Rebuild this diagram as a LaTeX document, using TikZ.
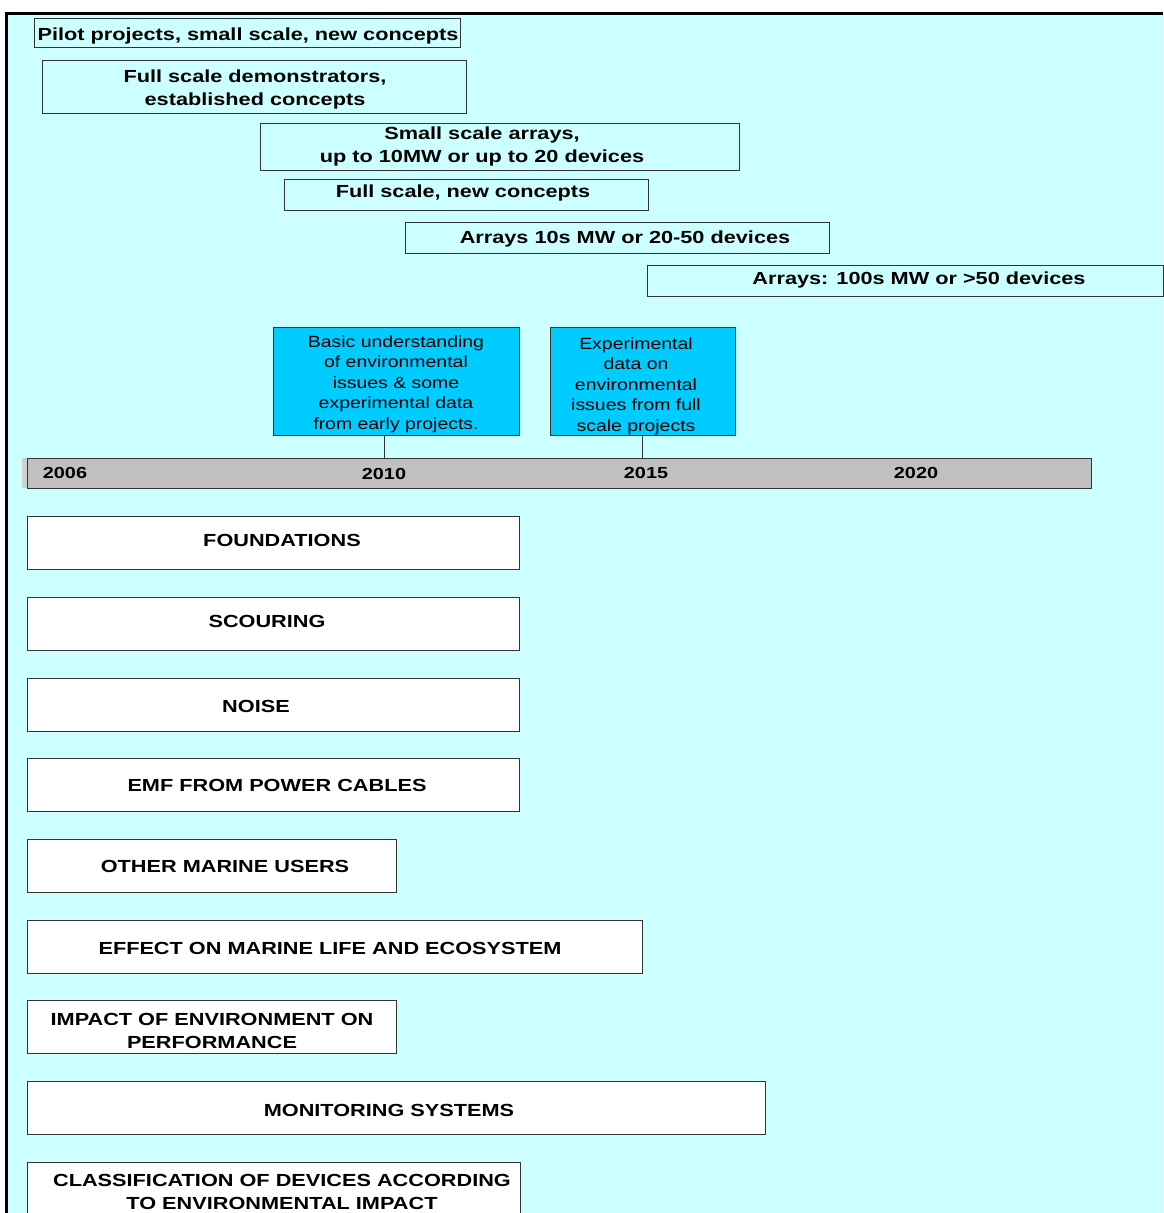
\documentclass[tikz,border=0pt]{standalone}
\usepackage{fontspec}
\setmainfont{Liberation Sans}
\newfontfamily\lab[FakeStretch=1.24]{Liberation Sans}
\newfontfamily\labreg[FakeStretch=1.2]{Liberation Sans}
\usetikzlibrary{fit}
\definecolor{bgc}{HTML}{CCFFFF}
\definecolor{bluebox}{HTML}{00CCFF}
\definecolor{barc}{HTML}{C0C0C0}
\definecolor{edgec}{HTML}{333333}
\begin{document}
\begin{tikzpicture}[x=1pt,y=-1pt,
  topbox/.style={draw=edgec, line width=0.9pt, fill=bgc, inner sep=0pt},
  envbox/.style={draw=edgec, line width=0.9pt, fill=bluebox, inner sep=0pt},
  catbox/.style={draw=edgec, line width=0.9pt, fill=white, inner sep=0pt},
  boldtxt/.style={font=\lab\bfseries\fontsize{17.5}{23}\selectfont, align=center, inner sep=0pt},
  regtxt/.style={font=\labreg\fontsize{16.2}{20.5}\selectfont, align=center, inner sep=0pt},
  yeartxt/.style={font=\lab\bfseries\fontsize{16}{19}\selectfont, inner sep=0pt},
  tick/.style={draw=edgec, line width=0.9pt}
]
\useasboundingbox (0,0) rectangle (1163,1213);
\fill[bgc] (6,13) rectangle (1163,1213);
\draw[line width=3pt] (4.5,13) -- (1163,13);
\draw[line width=3pt] (6,11.5) -- (6,1213);

% top phase boxes
\node[topbox, fit={(34,18) (460,47)}] (p1) {};
\node[boldtxt] (p1t) at (248,35.5) {Pilot projects, small scale, new concepts};
\node[topbox, fit={(42,60) (466,113)}] (p2) {};
\node[boldtxt] (p2t) at (255,89.5) {Full scale demonstrators,\\established concepts};
\node[topbox, fit={(260,123) (739,170)}] (p3) {};
\node[boldtxt] (p3t) at (482,146.5) {Small scale arrays,\\up to 10MW or up to 20 devices};
\node[topbox, fit={(284,179) (648,210)}] (p4) {};
\node[boldtxt] (p4t) at (463,193) {Full scale, new concepts};
\node[topbox, fit={(405,222) (829,253)}] (p5) {};
\node[boldtxt] (p5t) at (625,239) {Arrays 10s MW or 20-50 devices};
\node[topbox, fit={(647,265) (1163,296)}] (p6) {};
\node[boldtxt] (p6t) at (919,280) {Arrays: 100s MW or {>}50 devices};

% timeline bar
\fill[barc!75!white] (22,458) rectangle (27,488);
\node[draw=edgec, line width=0.9pt, fill=barc, inner sep=0pt, fit={(27,458) (1091,488)}] (bar) {};
\node[yeartxt] (y2006) at (65,473) {2006};
\node[yeartxt] (y2010) at (384,474) {2010};
\node[yeartxt] (y2015) at (646,473) {2015};
\node[yeartxt] (y2020) at (916,473) {2020};

% environmental knowledge boxes
\node[envbox, fit={(273,327) (519,435)}] (e1) {};
\node[regtxt] (e1t) at (396,384) {Basic understanding\\of environmental\\issues \& some\\experimental data\\from early projects.};
\node[envbox, fit={(550,327) (735,435)}] (e2) {};
\node[regtxt] (e2t) at (636,386) {Experimental\\data on\\environmental\\issues from full\\scale projects};
\draw[tick] (y2010 |- e1.south) -- (y2010 |- bar.north);
\draw[tick] (642,435) coordinate (c2015) -- (c2015 |- bar.north);

% category boxes
\node[catbox, fit={(27,516) (519,569)}] (c1) {};
\node[boldtxt] (c1t) at (282,540) {FOUNDATIONS};
\node[catbox, fit={(27,597) (519,650)}] (c2) {};
\node[boldtxt] (c2t) at (267,621) {SCOURING};
\node[catbox, fit={(27,678) (519,731)}] (c3) {};
\node[boldtxt] (c3t) at (256,706) {NOISE};
\node[catbox, fit={(27,758) (519,811)}] (c4) {};
\node[boldtxt] (c4t) at (277,785) {EMF FROM POWER CABLES};
\node[catbox, fit={(27,839) (396,892)}] (c5) {};
\node[boldtxt] (c5t) at (225,866) {OTHER MARINE USERS};
\node[catbox, fit={(27,920) (642,973)}] (c6) {};
\node[boldtxt] (c6t) at (330,948) {EFFECT ON MARINE LIFE AND ECOSYSTEM};
\node[catbox, fit={(27,1000) (396,1053)}] (c7) {};
\node[boldtxt] (c7t) at (212,1031) {IMPACT OF ENVIRONMENT ON\\PERFORMANCE};
\node[catbox, fit={(27,1081) (765,1134)}] (c8) {};
\node[boldtxt] (c8t) at (389,1110) {MONITORING SYSTEMS};
\node[catbox, fit={(27,1162) (520,1225)}] (c9) {};
\node[boldtxt] (c9t) at (282,1192) {CLASSIFICATION OF DEVICES ACCORDING\\TO ENVIRONMENTAL IMPACT};
\end{tikzpicture}
\end{document}
